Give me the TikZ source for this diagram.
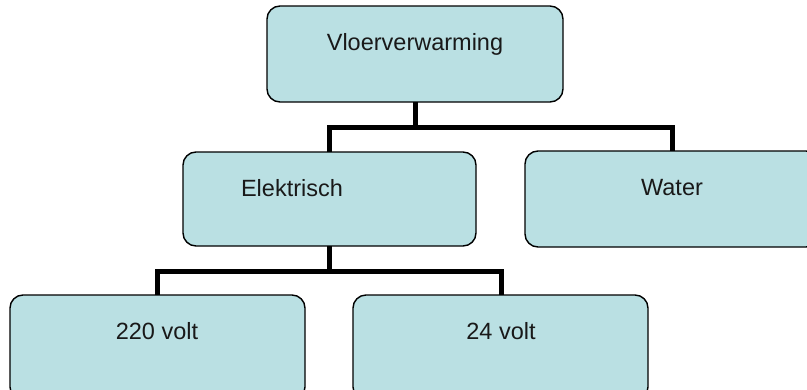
\documentclass[tikz,border=0pt]{standalone}
\usepackage{fontspec}
\setmainfont{Liberation Sans}
\definecolor{boxfill}{RGB}{186,224,227}
\tikzset{
  orgbox/.style={draw=black, line width=1.4pt, fill=boxfill, rounded corners=13pt},
  lbl/.style={font=\fontsize{23.5}{28}\selectfont, inner sep=0pt, text=black!90},
  conn/.style={draw=black, line width=5pt}
}
\begin{document}
\begin{tikzpicture}[x=1pt,y=-1pt]
\useasboundingbox (0,0) rectangle (807,389);
\clip (0,0) rectangle (807,389);
% boxes
\path[orgbox] (267,6) rectangle (563,102);
\path[orgbox] (183,152) rectangle (476,246);
\path[orgbox] (525,151) rectangle (819,247);
\path[orgbox] (10,295) rectangle (305,400);
\path[orgbox] (353,295) rectangle (648,400);
% anchor coordinates
\coordinate (topS) at (415,102);
\coordinate (elekN) at (329,152);
\coordinate (elekS) at (329,246);
\coordinate (waterN) at (672,151);
\coordinate (vN) at (157,295);
\coordinate (tN) at (501,295);
% connectors
\draw[conn] (topS) -- ++(0,25) -| (elekN);
\draw[conn] (topS) -- ++(0,25) -| (waterN);
\draw[conn] (elekS) -- ++(0,25) -| (vN);
\draw[conn] (elekS) -- ++(0,25) -| (tN);
% texts
\node[lbl] (t1) at (415,44) {Vloerverwarming};
\node[lbl] (t2) at (292,188) {Elektrisch};
\node[lbl] (t3) at (672,188) {Water};
\node[lbl] (t4) at (157,331) {220 volt};
\node[lbl] (t5) at (501,331) {24 volt};
\end{tikzpicture}
\end{document}
